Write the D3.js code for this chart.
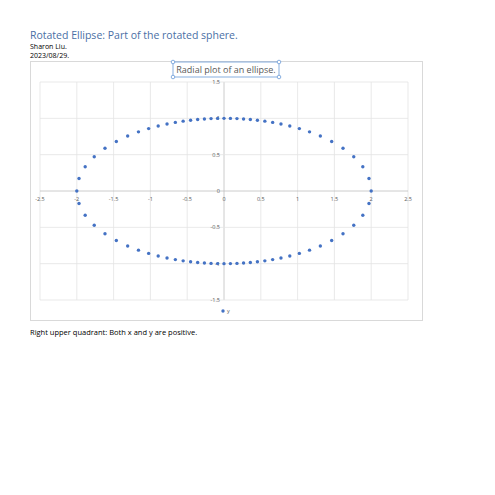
<!DOCTYPE html>
<html><head><meta charset="utf-8">
<script src="https://cdn.jsdelivr.net/npm/d3@7"></script>
<style>body{margin:0;background:#fff}text{font-family:"Open Sans",Calibri,sans-serif}</style>
</head><body><div id="chart"></div>
<script>
// radial samples of the ellipse, every 5 degrees
const xs = [2,1.970,1.886,1.763,1.617,1.463,1.309,1.162,1.024,0.894,0.774,0.661,0.555,0.454,0.358,0.266,0.176,0.087,
  0,-0.087,-0.176,-0.266,-0.358,-0.454,-0.555,-0.661,-0.774,-0.894,-1.024,-1.162,-1.309,-1.463,-1.617,-1.763,-1.886,-1.970,
  -2,-1.970,-1.886,-1.763,-1.617,-1.463,-1.309,-1.162,-1.024,-0.894,-0.774,-0.661,-0.555,-0.454,-0.358,-0.266,-0.176,-0.087,
  0,0.087,0.176,0.266,0.358,0.454,0.555,0.661,0.774,0.894,1.024,1.162,1.309,1.463,1.617,1.763,1.886,1.970];
const ys = [0,0.172,0.333,0.472,0.589,0.682,0.756,0.814,0.859,0.894,0.922,0.944,0.961,0.974,0.984,0.991,0.996,0.999,
  1,0.999,0.996,0.991,0.984,0.974,0.961,0.944,0.922,0.894,0.859,0.814,0.756,0.682,0.589,0.472,0.333,0.172,
  0,-0.172,-0.333,-0.472,-0.589,-0.682,-0.756,-0.814,-0.859,-0.894,-0.922,-0.944,-0.961,-0.974,-0.984,-0.991,-0.996,-0.999,
  -1,-0.999,-0.996,-0.991,-0.984,-0.974,-0.961,-0.944,-0.922,-0.894,-0.859,-0.814,-0.756,-0.682,-0.589,-0.472,-0.333,-0.172];
const xTicks = [-2.5,-2,-1.5,-1,-0.5,0,0.5,1,1.5,2,2.5];
const yTicks = [-1.5,-1,-0.5,0,0.5,1,1.5];

const svg = d3.select("#chart").append("svg").attr("width",495).attr("height",495);

svg.append("text").attr("x",30).attr("y",39).attr("fill","#4a6fa5").attr("font-size",10.5)
  .text("Rotated Ellipse: Part of the rotated sphere.");
svg.append("text").attr("x",30).attr("y",49).attr("font-size",7).text("Sharon Liu.");
svg.append("text").attr("x",30).attr("y",57.5).attr("font-size",7).text("2023/08/29.");
svg.append("text").attr("x",30).attr("y",335).attr("font-size",7.5)
  .text("Right upper quadrant: Both x and y are positive.");

svg.append("rect").attr("x",30.5).attr("y",61.5).attr("width",392).attr("height",259)
  .attr("fill","none").attr("stroke","#d9d9d9");

const x = d3.scaleLinear().domain([-2.5,2.5]).range([40,408]);
const y = d3.scaleLinear().domain([-1.5,1.5]).range([300,82]);

const g = svg.append("g");
g.selectAll(".vg").data(xTicks).enter().append("line")
  .attr("x1",d=>x(d)).attr("x2",d=>x(d)).attr("y1",y(1.5)).attr("y2",y(-1.5))
  .attr("stroke",d=>d===0?"#bfbfbf":"#e3e3e3").attr("stroke-width",0.8);
g.selectAll(".hg").data(yTicks).enter().append("line")
  .attr("y1",d=>y(d)).attr("y2",d=>y(d)).attr("x1",x(-2.5)).attr("x2",x(2.5))
  .attr("stroke",d=>d===0?"#bfbfbf":"#e3e3e3").attr("stroke-width",0.8);

g.selectAll(".xl").data(xTicks).enter().append("text")
  .attr("x",d=>x(d)).attr("y",y(0)+10).attr("text-anchor","middle")
  .attr("font-size",5.5).attr("fill","#595959").text(d=>d);
g.selectAll(".yl").data(yTicks).enter().append("text")
  .attr("x",x(0)-4).attr("y",d=>y(d)+2).attr("text-anchor","end")
  .attr("font-size",5.5).attr("fill","#595959").text(d=>d);

g.selectAll(".pt").data(xs).enter().append("circle")
  .attr("cx",d=>x(d)).attr("cy",(d,i)=>y(ys[i])).attr("r",1.7).attr("fill","#4472c4");

// chart title with selection handles
const tb = {x0:173,x1:279,y0:62,y1:77};
svg.append("rect").attr("x",tb.x0).attr("y",tb.y0).attr("width",tb.x1-tb.x0).attr("height",tb.y1-tb.y0)
  .attr("fill","none").attr("stroke","#6a9bd8").attr("stroke-width",0.8);
[[tb.x0,tb.y0],[tb.x1,tb.y0],[tb.x0,tb.y1],[tb.x1,tb.y1]].forEach(p=>
  svg.append("circle").attr("cx",p[0]).attr("cy",p[1]).attr("r",1.8)
    .attr("fill","#fff").attr("stroke","#6a9bd8").attr("stroke-width",0.8));
svg.append("text").attr("x",(tb.x0+tb.x1)/2).attr("y",73).attr("text-anchor","middle")
  .attr("font-size",9).attr("fill","#595959").text("Radial plot of an ellipse.");

svg.append("circle").attr("cx",223).attr("cy",311).attr("r",1.7).attr("fill","#4472c4");
svg.append("text").attr("x",227).attr("y",313).attr("font-size",5.5).attr("fill","#595959").text("y");
</script></body></html>
